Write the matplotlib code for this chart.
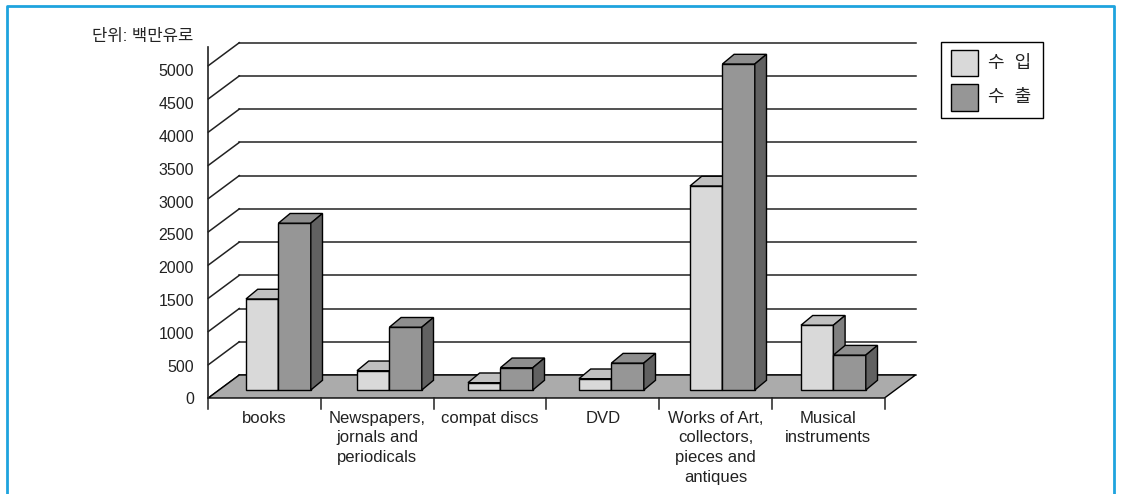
import matplotlib.pyplot as plt
from matplotlib.patches import Polygon, Rectangle
from matplotlib.lines import Line2D
import numpy as np

plt.rcParams['font.family'] = ['Liberation Sans', 'Noto Sans CJK KR']

# Data (millions of euro)
categories = ['books', 'Newspapers,\njornals and\nperiodicals', 'compat discs', 'DVD',
              'Works of Art,\ncollectors,\npieces and\nantiques', 'Musical\ninstruments']
imports = [1370, 290, 110, 170, 3070, 975]
exports = [2510, 945, 335, 405, 4905, 525]
yticks = np.arange(0, 5001, 500)
series_labels = ['수  입', '수  출']
unit_label = '단위: 백만유로'

# Colours: front, top, side
col_imp = ('#d9d9d9', '#c0c0c0', '#808080')
col_exp = ('#969696', '#8e8e8e', '#616161')
floor_col = '#ababab'
frame_col = '#1ea3de'

### Layout (pixel based, converted to data units)
W, H = 1122, 494
cat_px = 112.7      # px per category
x0_px = 208.3       # px of category 0 at front
val_px = 0.06646    # px per value unit
y0_px = 398.0       # px of value 0 at front

fig = plt.figure(figsize=(W/100, H/100), dpi=100)
ax = fig.add_axes([0, 0, 1, 1])
ax.set_xlim(-x0_px/cat_px, (W-x0_px)/cat_px)
ax.set_ylim((y0_px-H)/val_px, y0_px/val_px)
ax.axis('off')

ncat = len(categories)
dx = 31/cat_px      # depth of the floor
dy = 23/val_px
bdx = 11.7/cat_px   # depth of a bar
bdy = 9.7/val_px
base = 8/val_px     # bars stand a bit behind the front edge
bw = 32.4/cat_px
bar_step = 111/cat_px
bar_off = 37.7/cat_px

# Back wall gridlines and left wall diagonals
for v in yticks:
    ax.plot([dx, ncat+dx], [v+dy, v+dy], color='#222222', lw=1.1, zorder=1)
    ax.plot([0, dx], [v, v+dy], color='#222222', lw=1.1, zorder=1)

# Floor
ax.add_patch(Polygon([(0, 0), (dx, dy), (ncat+dx, dy), (ncat, 0)], closed=True,
                     fc=floor_col, ec='black', lw=1, zorder=2))

# Left axis line
ax.plot([0, 0], [0, yticks[-1] + 19/val_px], color='#222222', lw=1.2, zorder=2)

# Category ticks
for i in range(ncat+1):
    ax.plot([i, i], [0, -11/val_px], color='#222222', lw=1.1, zorder=2)

# Bars
def draw_bars(xs, vals, cols, z):
    ax.bar(xs, vals, bw, bottom=base, align='edge', color=cols[0], edgecolor='black',
           lw=1, zorder=z)
    for x, v in zip(xs, vals):
        top = base + v
        ax.add_patch(Polygon([(x, top), (x+bw, top), (x+bw+bdx, top+bdy), (x+bdx, top+bdy)],
                             closed=True, fc=cols[1], ec='black', lw=1, zorder=z))
        ax.add_patch(Polygon([(x+bw, base), (x+bw, top), (x+bw+bdx, top+bdy), (x+bw+bdx, base+bdy)],
                             closed=True, fc=cols[2], ec='black', lw=1, zorder=z))

xs_imp = bar_off + bar_step*np.arange(ncat)
xs_exp = xs_imp + bw
draw_bars(xs_imp, imports, col_imp, 3)
draw_bars(xs_exp, exports, col_exp, 4)

# Y tick labels (sit slightly below the gridlines in the original)
for v in yticks:
    ax.text(-14.5/cat_px, v*0.988 - 30, str(v), ha='right', va='center', fontsize=11.5, color='#222222')

ax.text(-15/cat_px, (y0_px-36)/val_px, unit_label, ha='right', va='center', fontsize=12, color='#222222')

# Category labels
for i, c in enumerate(categories):
    ax.text(i+0.5, -12.5/val_px, c, ha='center', va='top', fontsize=12, color='#222222', linespacing=1.39)

# Legend, drawn by hand to match the boxed key of the original
def figbox(x, y, w, h):
    return (x/W, 1-(y+h)/H), w/W, h/H

xy, w, h = figbox(940.7, 42, 102.6, 76.3)
fig.add_artist(Rectangle(xy, w, h, transform=fig.transFigure, fc='white', ec='black', lw=1))
for k, (lab, cols) in enumerate(zip(series_labels, [col_imp, col_exp])):
    xy, w, h = figbox(950.7, 50 + 34.3*k, 27, 26.3)
    fig.add_artist(Rectangle(xy, w, h, transform=fig.transFigure, fc=cols[0], ec='black', lw=1))
    fig.text(988/W, 1-(63.5 + 34.3*k)/H, lab, ha='left', va='center', fontsize=13, color='#222222')

# Blue frame of the figure box
fig.add_artist(Line2D([7/W, 7/W, 1114/W, 1114/W], [0, 1-6/H, 1-6/H, 0], transform=fig.transFigure,
                      color=frame_col, lw=2))

fig.savefig('out.png', dpi=100)
